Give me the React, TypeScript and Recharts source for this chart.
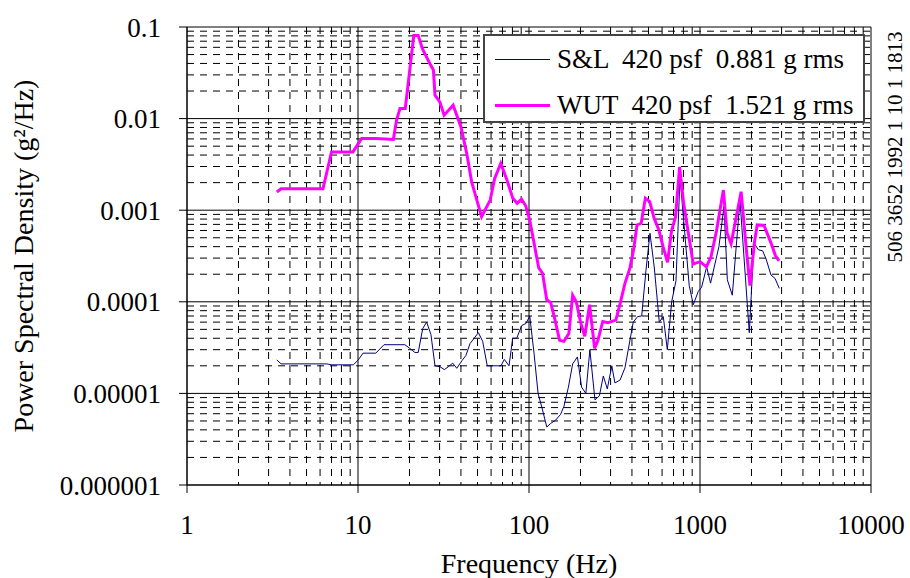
import React from "react";
import { LineChart, Line, XAxis, YAxis, CartesianGrid, Legend } from "recharts";

const FONT = "'Liberation Serif', 'Times New Roman', serif";

// decade ticks on both log axes
const xTicks = [1, 10, 100, 1000, 10000];
const yTicks = [0.000001, 0.00001, 0.0001, 0.001, 0.01, 0.1];
const yTickLabels = ["0.000001", "0.00001", "0.0001", "0.001", "0.01", "0.1"];
const minorSteps = [2, 3, 4, 5, 6, 7, 8, 9];

// S&L 420 psf
const slFreq = [
  3.35, 3.55, 6.56, 7.02, 9.39, 10.04, 10.7, 12.7, 14.2, 18.8, 20.1, 21.5, 22.5, 23.9, 25.2, 26.7,
  28.2, 30.2, 32.0, 33.7, 35.8, 37.8, 40.7, 42.8, 45.2, 50.6, 53.6, 57.0, 68.6, 71.7, 76.4, 80.3,
  84.8, 90.6, 96.0, 101, 107, 113, 120, 127, 134, 143, 153, 160, 170, 180, 192, 203, 215, 227,
  243, 258, 272, 287, 305, 318, 341, 364, 407, 432, 456, 483, 510, 540, 578, 610, 644, 683, 724,
  764, 865, 914, 977, 1022, 1093, 1153, 1290, 1381, 1445, 1545, 1713, 1942, 2069, 2193, 2326,
  2432, 2601, 2746, 2910,
];
const slPsd = [
  2.32e-5, 2.1e-5, 2.1e-5, 2.05e-5, 2.05e-5, 2.32e-5, 2.75e-5, 2.75e-5, 3.4e-5, 3.4e-5, 3.1e-5,
  2.8e-5, 2.8e-5, 5.1e-5, 6.0e-5, 4.4e-5, 2.0e-5, 1.95e-5, 1.82e-5, 1.95e-5, 2.14e-5, 1.88e-5,
  2.3e-5, 2.6e-5, 3.5e-5, 4.6e-5, 3.7e-5, 2.0e-5, 2.0e-5, 2.35e-5, 2.0e-5, 4.0e-5, 4.0e-5, 5.5e-5,
  5.8e-5, 7.0e-5, 2.75e-5, 1.0e-5, 6.6e-6, 4.3e-6, 4.7e-6, 5.1e-6, 5.9e-6, 7.2e-6, 1.17e-5,
  2.1e-5, 2.5e-5, 1.17e-5, 1.0e-5, 3.0e-5, 8.5e-6, 9.4e-6, 1.55e-5, 1.12e-5, 2.0e-5, 1.3e-5,
  1.4e-5, 1.9e-5, 6.0e-5, 6.9e-5, 7.0e-5, 2.2e-4, 5.6e-4, 2.4e-4, 6.0e-5, 6.9e-5, 3.0e-5, 1.0e-4,
  1.7e-4, 2.3e-3, 1.5e-4, 9.3e-5, 1.3e-4, 1.44e-4, 2.4e-4, 1.6e-4, 4.0e-4, 1.1e-3, 1.74e-4,
  1.18e-4, 1.29e-3, 4.6e-5, 4.4e-4, 3.7e-4, 3.6e-4, 2.95e-4, 1.96e-4, 1.8e-4, 1.4e-4,
];

// WUT 420 psf
const wutFreq = [
  3.35, 3.55, 6.24, 7.0, 9.34, 10.5, 12.8, 16.1, 16.8, 17.6, 18.9, 21.2, 22.5, 23.8, 26.3, 27.6,
  28.2, 30.1, 31.9, 36.0, 40.0, 43.2, 46.2, 52.8, 59.3, 63.0, 68.4, 74.3, 80.4, 85.3, 90.4, 95.8,
  101, 108, 114, 120, 127, 134, 142, 151, 160, 171, 180, 189, 201, 212, 226, 242, 253, 270, 290,
  322, 340, 364, 389, 410, 428, 453, 479, 508, 540, 576, 608, 646, 682, 719, 760, 803, 913, 1000,
  1090, 1160, 1250, 1370, 1440, 1520, 1740, 1870, 1960, 2080, 2160, 2370, 2600, 2760, 2900,
];
const wutPsd = [
  0.00158, 0.00171, 0.00171, 0.00433, 0.00433, 0.00607, 0.00607, 0.00592, 0.0096, 0.0129, 0.0129,
  0.081, 0.081, 0.058, 0.04, 0.034, 0.018, 0.0152, 0.0109, 0.014, 0.0081, 0.0042, 0.00204, 0.00085,
  0.00129, 0.00222, 0.00324, 0.00214, 0.00135, 0.00119, 0.00132, 0.00111, 0.00078, 0.0004,
  0.000234, 0.000205, 0.000105, 0.000098, 0.000063, 0.000038, 0.000037, 0.000045, 0.000118,
  0.0001, 0.000058, 0.000042, 0.000093, 0.000031, 0.000038, 0.000061, 0.000059, 0.000063,
  0.000093, 0.000159, 0.000233, 0.00038, 0.00069, 0.00072, 0.00135, 0.00124, 0.00081, 0.0006,
  0.0004, 0.00027, 0.0006, 0.00084, 0.00297, 0.00118, 0.000258, 0.000274, 0.00024, 0.00031,
  0.0006, 0.00166, 0.00056, 0.00043, 0.00159, 0.00036, 0.00015, 0.00044, 0.00069, 0.00068,
  0.00044, 0.00032, 0.00028,
];

const toPoints = (freq: number[], psd: number[]) => freq.map((f, i) => ({ f, psd: psd[i] }));

const series = [
  { name: "S&L  420 psf  0.881 g rms", color: "#000080", width: 1, data: toPoints(slFreq, slPsd) },
  { name: "WUT  420 psf  1.521 g rms", color: "#ff00ff", width: 3, data: toPoints(wutFreq, wutPsd) },
];

const xMinor = xTicks.slice(0, -1).flatMap((d) => minorSteps.map((k) => d * k));
const yMinor = yTicks.slice(0, -1).flatMap((d) => minorSteps.map((k) => d * k));

const tickStyle = { fill: "#000", fontSize: 27, fontFamily: FONT };

const formatY = (v: number) => {
  const i = yTicks.findIndex((t) => Math.abs(t - v) / t < 1e-6);
  return i >= 0 ? yTickLabels[i] : String(v);
};

const XTitle = (props: any) => {
  const vb = props.viewBox || {};
  return (
    <text x={vb.x + vb.width / 2} y={vb.y + 88} textAnchor="middle" fontSize={28} fontFamily={FONT} fill="#000">
      Frequency (Hz)
    </text>
  );
};

const YTitle = (props: any) => {
  const vb = props.viewBox || {};
  const x = 33;
  const y = vb.y + vb.height / 2;
  return (
    <text x={x} y={y} transform={`rotate(-90 ${x} ${y})`} textAnchor="middle" fontSize={28} fontFamily={FONT} fill="#000">
      Power Spectral Density (g²/Hz)
    </text>
  );
};

const LegendBox = () => (
  <div
    style={{
      boxSizing: "border-box",
      width: 382,
      height: 89,
      border: "2px solid #444",
      background: "#fff",
      fontFamily: FONT,
      fontSize: 27,
      color: "#000",
    }}
  >
    {series.map((s) => (
      <div key={s.name} style={{ display: "flex", alignItems: "center", height: 46, paddingLeft: 10 }}>
        <span style={{ display: "inline-block", width: 55, height: 0, borderTop: `${s.width}px solid ${s.color}` }} />
        <span style={{ marginLeft: 7, whiteSpace: "pre", lineHeight: 1 }}>{s.name}</span>
      </div>
    ))}
  </div>
);

export default function App() {
  return (
    <div style={{ position: "absolute", left: 0, top: 0, width: 910, height: 578, background: "#fff" }}>
      <LineChart width={910} height={578} margin={{ top: 27, right: 39, bottom: 0, left: 0 }}>
        <CartesianGrid verticalValues={xMinor} horizontalValues={yMinor} stroke="#000" strokeDasharray="7 6" />
        <CartesianGrid verticalValues={xTicks} horizontalValues={yTicks} stroke="#000" />
        <XAxis
          type="number"
          dataKey="f"
          scale="log"
          domain={[1, 10000]}
          ticks={xTicks}
          interval={0}
          allowDataOverflow
          height={93}
          tickSize={8}
          tickMargin={22}
          tick={tickStyle}
          stroke="#000"
          label={XTitle}
        />
        <YAxis
          type="number"
          dataKey="psd"
          scale="log"
          domain={[0.000001, 0.1]}
          ticks={yTicks}
          interval={0}
          allowDataOverflow
          width={187}
          tickSize={8}
          tickMargin={18}
          tick={tickStyle}
          tickFormatter={formatY}
          stroke="#000"
          label={YTitle}
        />
        {series.map((s) => (
          <Line
            key={s.name}
            data={s.data}
            dataKey="psd"
            name={s.name}
            type="linear"
            stroke={s.color}
            strokeWidth={s.width}
            dot={false}
            activeDot={false}
            isAnimationActive={false}
          />
        ))}
        <Legend
          layout="horizontal"
          verticalAlign="middle"
          align="center"
          wrapperStyle={{ left: 483, top: 34, width: 382, height: 89 }}
          content={LegendBox}
        />
      </LineChart>
      <div
        style={{
          position: "absolute",
          left: 895,
          top: 147,
          transform: "translate(-50%, -50%) rotate(-90deg)",
          whiteSpace: "nowrap",
          fontFamily: FONT,
          fontSize: 21,
          lineHeight: 1,
          color: "#000",
        }}
      >
        506 3652 1992 1 10 1 1813
      </div>
    </div>
  );
}
